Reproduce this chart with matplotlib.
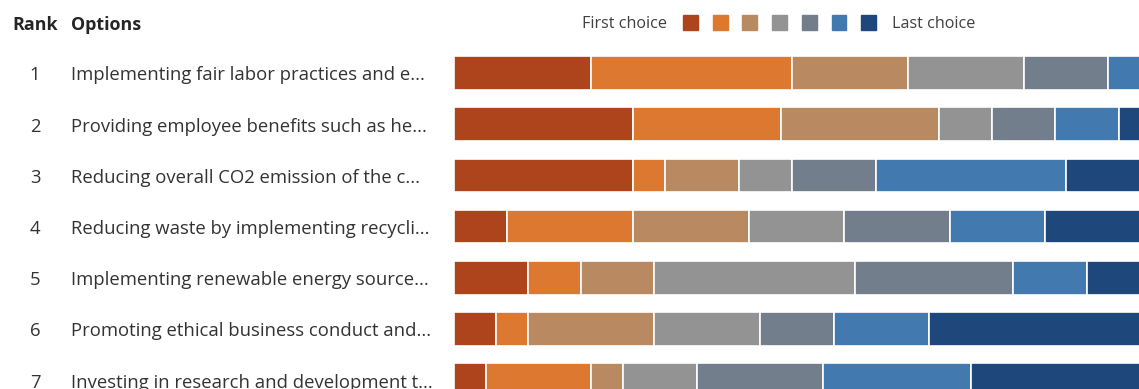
import matplotlib
matplotlib.use('Agg')
import matplotlib.pyplot as plt
from matplotlib.patches import Rectangle

plt.rcParams['font.family'] = ['Open Sans', 'DejaVu Sans']

# Ranking responses (66 respondents), counts per choice position
ranks = [1, 2, 3, 4, 5, 6, 7]
options = [
    'Implementing fair labor practices and e...',
    'Providing employee benefits such as he...',
    'Reducing overall CO2 emission of the c...',
    'Reducing waste by implementing recycli...',
    'Implementing renewable energy source...',
    'Promoting ethical business conduct and...',
    'Investing in research and development t...',
]
choice_1 = [13, 17, 17, 5, 7, 4, 3]
choice_2 = [19, 14, 3, 12, 5, 3, 10]
choice_3 = [11, 15, 7, 11, 7, 12, 3]
choice_4 = [11, 5, 5, 9, 19, 10, 7]
choice_5 = [8, 6, 8, 10, 15, 7, 12]
choice_6 = [3, 6, 18, 9, 7, 9, 14]
choice_7 = [1, 3, 8, 10, 6, 21, 17]
choices = [choice_1, choice_2, choice_3, choice_4, choice_5, choice_6, choice_7]

colors = ['#AE441C', '#DC782F', '#B98A62', '#939393', '#737E8C', '#4279AE', '#1E487C']

W, H = 1139, 389
fig = plt.figure(figsize=(W / 100, H / 100), dpi=100)

# bars start at x=454px, one respondent ~10.55px, rows 51.2px apart
total = sum(c[0] for c in choices)
ax = fig.add_axes([454 / W, 0, total * 10.55 / W, 1])
row_y = list(range(len(ranks)))
left = [0] * len(ranks)
for vals, col in zip(choices, colors):
    ax.barh(row_y, vals, left=left, height=0.66, color=col,
            edgecolor='white', linewidth=1.2)
    left = [l + v for l, v in zip(left, vals)]
ax.set_xlim(0, total)
ax.set_ylim((H - 73) / 51.2, -73 / 51.2)
ax.axis('off')

# header
fig.text(12 / W, 1 - 25 / H, 'Rank', fontsize=12.9, fontweight='bold',
         color='#252525', va='center', ha='left')
fig.text(71 / W, 1 - 25 / H, 'Options', fontsize=12.9, fontweight='bold',
         color='#252525', va='center', ha='left')

# row labels
for i, (r, opt) in enumerate(zip(ranks, options)):
    y = 1 - (75.5 + 51.2 * i) / H
    fig.text(35 / W, y, str(r), fontsize=13.3, color='#333333',
             va='center', ha='center')
    fig.text(71 / W, y, opt, fontsize=13.3, color='#333333',
             va='center', ha='left')

# legend
ly = 1 - 23.5 / H
fig.text(582 / W, ly, 'First choice', fontsize=11.6, color='#404040',
         va='center', ha='left')
for k, col in enumerate(colors):
    x0 = 683 + 29.7 * k
    fig.add_artist(Rectangle((x0 / W, 1 - 30 / H), 15 / W, 15 / H,
                             transform=fig.transFigure, color=col))
fig.text(892 / W, ly, 'Last choice', fontsize=11.6, color='#404040',
         va='center', ha='left')

fig.savefig('out.png', dpi=100, facecolor='white')
